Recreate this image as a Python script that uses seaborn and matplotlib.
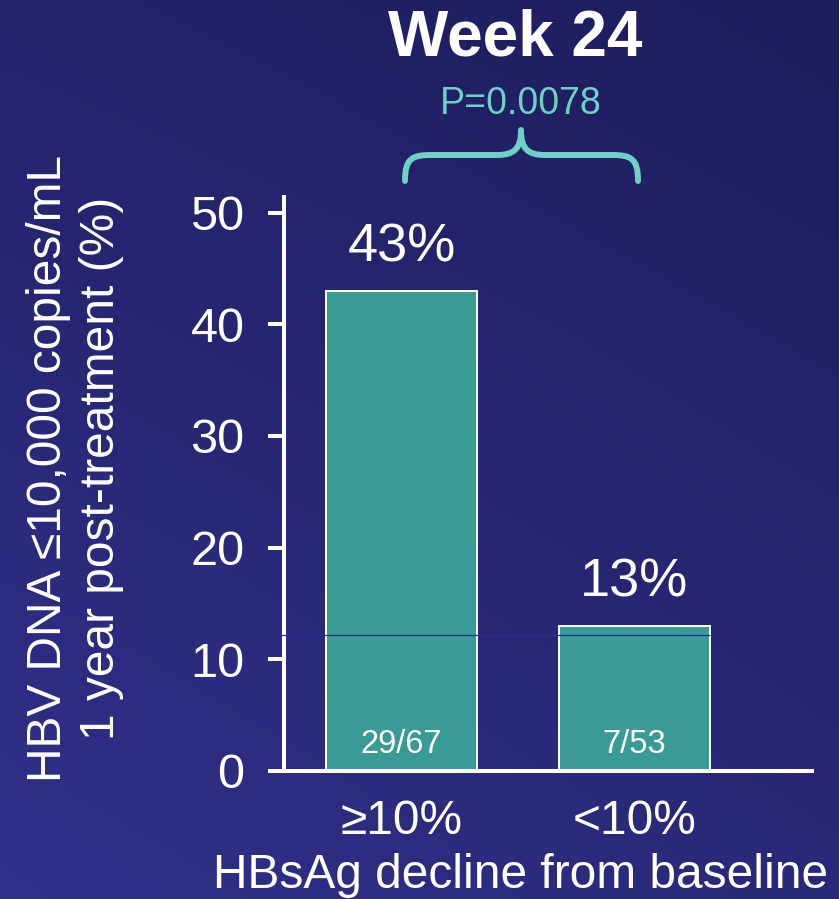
import numpy as np
import pandas as pd
import matplotlib
matplotlib.use("Agg")
import matplotlib.pyplot as plt
from matplotlib.path import Path
from matplotlib.patches import PathPatch
import seaborn as sns

# Data
groups = ["≥10%", "<10%"]
responders = ["29/67", "7/53"]
response_pct = [43, 13]
pct_labels = ["43%", "13%"]
p_value_text = "P=0.0078"
y_ticks = [0, 10, 20, 30, 40, 50]
divider_level = 12.2

sns.set_theme(style="white")
plt.rcParams["font.family"] = ["Liberation Sans", "DejaVu Sans"]

W, H, DPI = 839, 899, 100
fig = plt.figure(figsize=(W / DPI, H / DPI), dpi=DPI)

# Gradient backdrop (bilinear between corner colours)
bg = fig.add_axes([0, 0, 1, 1], zorder=-10)
bg.set_axis_off()
def hexrgb(h):
    h = h.lstrip("#")
    return np.array([int(h[i:i + 2], 16) / 255 for i in (0, 2, 4)])
tl, tr, bl, br = hexrgb("#24226b"), hexrgb("#1e1d5b"), hexrgb("#31308a"), hexrgb("#2a2878")
u = np.linspace(0, 1, 200)[None, :, None]
v = np.linspace(0, 1, 200)[:, None, None]  # 0 = top
img = (1 - v) * ((1 - u) * tl + u * tr) + v * ((1 - u) * bl + u * br)
bg.imshow(img, aspect="auto", extent=[0, 1, 0, 1], interpolation="bilinear")
bg.set_xlim(0, 1)
bg.set_ylim(0, 1)

# Main axes
ax = fig.add_axes([284 / W, 1 - 771 / H, (812 - 284) / W, (771 - 197) / H])
ax.set_facecolor("none")

df = pd.DataFrame({"group": groups, "pct": response_pct})
bar_w = 151 / 233
sns.barplot(data=df, x="group", y="pct", ax=ax, color="#3a9b96",
            saturation=1, width=bar_w, edgecolor="white", linewidth=1.4, zorder=2)

ax.set_xlim(-0.504, 1.762)
ax.set_ylim(0, 51.4)
ax.set_yticks(y_ticks)
ax.set_yticklabels([str(t) for t in y_ticks], color="white", fontsize=35)
ax.tick_params(axis="y", which="both", left=True, length=11.5, width=2.9,
               color="white", pad=17)
ax.tick_params(axis="x", length=0, pad=20, labelsize=34.5, labelcolor="white")
for side in ("top", "right"):
    ax.spines[side].set_visible(False)
for side in ("left", "bottom"):
    ax.spines[side].set_color("white")
    ax.spines[side].set_linewidth(2.9)
ax.set_xlabel("")
ax.set_ylabel("")
ax.grid(False)

# Axis titles
fig.text(521 / W, 1 - 876 / H, "HBsAg decline from baseline", ha="center", va="center",
         color="white", fontsize=34.5)
fig.text(75 / W, 1 - 468 / H, "HBV DNA ≤10,000 copies/mL\n1 year post-treatment (%)",
         rotation=90, ha="center", va="center", multialignment="center",
         color="white", fontsize=34.5, linespacing=1.22)

# Thin divider across the plot
x_right = len(groups) - 1 + bar_w / 2
ax.hlines(divider_level, -0.52, x_right, color="#2e2c90", linewidth=0.9,
          zorder=3, clip_on=False)

# Value annotations
for i, (p, lab, n) in enumerate(zip(response_pct, pct_labels, responders)):
    ax.text(i, p + 1.6, lab, ha="center", va="bottom", color="white", fontsize=39)
    ax.text(i, 2.4, n, ha="center", va="center", color="white", fontsize=23.5)

# Title and p-value
fig.text(515 / W, 1 - 39 / H, "Week 24", ha="center", va="center",
         color="white", fontsize=46, fontweight="bold")
fig.text(521 / W, 1 - 104 / H, p_value_text, ha="center", va="center",
         color="#70cfc6", fontsize=27)

# Curly brace over both groups
pts = [(405, 181), (405, 158), (412, 155), (432, 155), (497, 155),
       (515, 155), (521, 148), (521, 130),
       (521, 148), (527, 155), (545, 155), (611, 155),
       (631, 155), (638, 158), (638, 181)]
codes = [Path.MOVETO, Path.CURVE4, Path.CURVE4, Path.CURVE4, Path.LINETO,
         Path.CURVE4, Path.CURVE4, Path.CURVE4,
         Path.CURVE4, Path.CURVE4, Path.CURVE4, Path.LINETO,
         Path.CURVE4, Path.CURVE4, Path.CURVE4]
verts = [(x / W, 1 - y / H) for x, y in pts]
brace = PathPatch(Path(verts, codes), transform=fig.transFigure, fill=False,
                  edgecolor="#70cfc6", linewidth=4.3, capstyle="round",
                  joinstyle="round")
fig.patches.append(brace)

fig.savefig("out.png", dpi=DPI)
